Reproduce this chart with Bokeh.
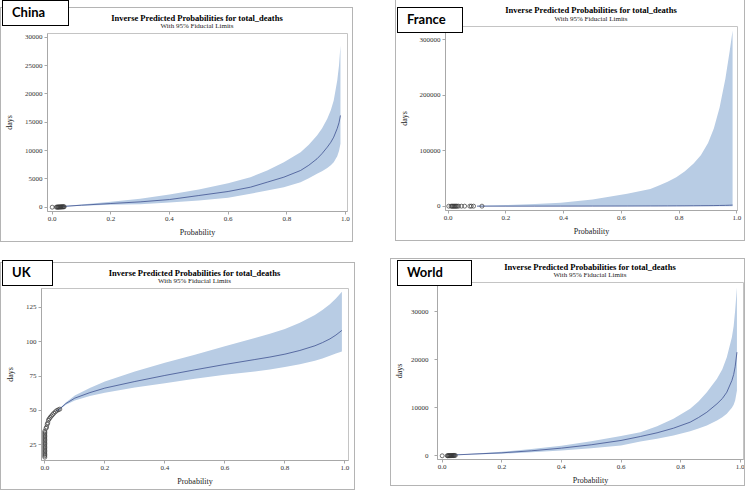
from bokeh.plotting import figure
from bokeh.layouts import row, column
from bokeh.models import Range1d, FixedTicker, PrintfTickFormatter, Div, GridBox
from bokeh.embed import file_html
from bokeh.resources import INLINE

# ---------------- data ----------------
x_ticks = [0.0, 0.2, 0.4, 0.6, 0.8, 1.0]

china_p   = [0.03, 0.05, 0.1, 0.2, 0.3, 0.4, 0.5, 0.6, 0.676, 0.733, 0.79, 0.847, 0.875, 0.903, 0.92, 0.938, 0.95, 0.96, 0.972, 0.978, 0.983]
china_lo  = [20, 120, 235, 410, 530, 820, 1180, 1650, 2365, 2950, 3530, 4410, 5100, 5900, 6350, 6900, 7400, 7940, 9000, 9900, 11190]
china_mid = [60, 180, 350, 650, 940, 1350, 2060, 2770, 3530, 4410, 5300, 6480, 7400, 8540, 9450, 10590, 11450, 12360, 13900, 14900, 16190]
china_hi  = [100, 235, 470, 940, 1470, 2235, 3120, 4235, 5300, 6480, 7940, 9710, 11000, 12650, 13900, 15600, 17100, 18830, 22360, 25000, 28540]
china_obs_p = [0.0, 0.014, 0.017, 0.019, 0.021, 0.023, 0.025, 0.027, 0.029, 0.031, 0.033, 0.035, 0.037, 0.039, 0.041]
china_obs_d = [0, 10, 15, 20, 25, 30, 35, 40, 45, 50, 55, 60, 65, 70, 75]
china_yticks = [0, 5000, 10000, 15000, 20000, 25000, 30000]

france_p   = [0.1, 0.2, 0.3, 0.39, 0.5, 0.62, 0.7, 0.73, 0.76, 0.79, 0.82, 0.85, 0.875, 0.9, 0.92, 0.94, 0.96, 0.975, 0.985]
france_lo  = [0, 0, 0, 0, 0, 0, 0, 0, 0, 0, 0, 0, 0, 0, 0, 0, 0, 0, 0]
france_mid = [30, 60, 100, 150, 230, 350, 450, 500, 560, 620, 700, 800, 900, 1000, 1100, 1300, 1500, 1750, 2000]
france_hi  = [700, 2000, 3800, 6100, 12100, 22400, 31000, 37400, 44000, 52300, 63000, 77000, 92000, 114000, 140000, 178000, 230000, 280000, 317000]
france_obs_p = [0.002, 0.01, 0.013, 0.016, 0.019, 0.022, 0.025, 0.028, 0.031, 0.036, 0.046, 0.057, 0.075, 0.08, 0.088, 0.117]
france_obs_d = [0, 10, 15, 20, 25, 30, 35, 40, 45, 50, 55, 60, 65, 70, 75, 80]
france_yticks = [0, 100000, 200000, 300000]

uk_p   = [0.04, 0.05, 0.07, 0.1, 0.15, 0.2, 0.3, 0.4, 0.5, 0.6, 0.7, 0.75, 0.8, 0.85, 0.9, 0.925, 0.95, 0.97, 0.99]
uk_lo  = [49.5, 50.7, 54.2, 57.3, 60.5, 62.9, 66.7, 69.9, 73.1, 76.0, 78.4, 79.9, 81.6, 83.7, 86.2, 87.9, 89.8, 91.5, 93.0]
uk_mid = [49.8, 51.2, 55.0, 59.0, 63.0, 66.3, 71.1, 75.5, 79.6, 83.5, 87.1, 88.9, 91.0, 93.7, 97.1, 99.4, 102.1, 104.9, 108.3]
uk_hi  = [50.1, 51.7, 55.8, 60.9, 66.3, 71.1, 78.4, 84.7, 90.5, 96.8, 102.7, 105.8, 109.3, 113.8, 119.5, 123.2, 127.4, 131.5, 136.5]
uk_obs_p = [0.0, 0.0, 0.0, 0.0, 0.0, 0.0, 0.0, 0.0, 0.0, 0.0, 0.0, 0.0, 0.0, 0.0, 0.0, 0.0, 0.0, 0.0, 0.0, 0.0,
            0.004, 0.006, 0.008, 0.01, 0.012, 0.015, 0.018, 0.022, 0.026, 0.03, 0.035, 0.04, 0.045, 0.05]
uk_obs_d = [16, 17, 18, 19, 20, 21, 22, 23, 24, 25, 26, 27, 28, 29, 30, 31, 32, 33, 34, 35,
            37, 38, 40, 41, 43, 44, 45, 46, 47, 48, 49, 50, 50.5, 51]
uk_yticks = [25, 50, 75, 100, 125]

world_p   = [0.03, 0.05, 0.1, 0.2, 0.3, 0.4, 0.5, 0.6, 0.665, 0.721, 0.776, 0.832, 0.86, 0.888, 0.922, 0.94, 0.955, 0.972, 0.978, 0.983, 0.989]
world_lo  = [20, 150, 280, 415, 760, 1110, 1590, 2150, 2970, 3530, 4220, 5110, 5680, 6300, 7340, 8000, 8730, 10000, 10600, 11500, 13580]
world_mid = [60, 200, 350, 620, 1040, 1590, 2290, 3190, 4010, 4780, 5740, 6990, 7950, 9060, 10810, 11900, 13220, 15650, 16900, 18500, 21540]
world_hi  = [100, 260, 415, 850, 1400, 2100, 3000, 4100, 4910, 6150, 7690, 9770, 11300, 13220, 16000, 18000, 20500, 24660, 27000, 30200, 35050]
world_obs_p = [0.0, 0.017, 0.019, 0.021, 0.023, 0.025, 0.027, 0.029, 0.031, 0.033, 0.035, 0.037, 0.039, 0.041, 0.044]
world_obs_d = [0, 10, 15, 20, 25, 30, 35, 40, 45, 50, 55, 60, 65, 70, 75]
world_yticks = [0, 10000, 20000, 30000]

TITLE = "Inverse Predicted Probabilities for total_deaths"
SUBTITLE = "With 95% Fiducial Limits"

SERIF = "Liberation Serif"
BAND = "#b8cce4"
LINE = "#3f5291"
GRAY = "#b4b4b4"


def overlay_div(name, w, h, frame_box, label_box, cx, title_y):
    fl, ft, fw, fh, top_border = frame_box
    ll, lt, lw, lh = label_box
    tb = "1px solid %s" % GRAY if top_border else "none"
    html = (
        '<div style="position:relative;width:%dpx;height:%dpx;">' % (w, h)
        + '<div style="position:absolute;left:%dpx;top:%dpx;width:%dpx;height:%dpx;box-sizing:border-box;'
          'border:1px solid %s;border-top:%s;"></div>' % (fl, ft, fw, fh, GRAY, tb)
        + '<div style="position:absolute;left:0px;top:%.1fpx;width:%dpx;text-align:center;'
          'font-family:\'Liberation Serif\';font-weight:bold;font-size:8.5px;line-height:9px;'
          'color:#000;white-space:nowrap;">%s</div>' % (title_y[0] - 4.5, int(round(2 * cx)), TITLE)
        + '<div style="position:absolute;left:0px;top:%.1fpx;width:%dpx;text-align:center;'
          'font-family:\'Liberation Serif\';font-size:7px;line-height:7px;color:#222;'
          'white-space:nowrap;">%s</div>' % (title_y[1] - 3.5, int(round(2 * cx)), SUBTITLE)
        + '<div style="position:absolute;left:%dpx;top:%dpx;width:%dpx;height:%dpx;box-sizing:border-box;'
          'border:1.5px solid #000;background:#fff;padding-left:9px;font-family:Lato;font-weight:bold;'
          'font-size:13px;line-height:23px;color:#000;">%s</div>' % (ll, lt, lw, lh, name)
        + '</div>'
    )
    return Div(text=html, width=w, height=h, margin=(0, 0, 0, 0))


def panel(name, p, lo, mid, hi, obs_p, obs_d, yticks, xr, yr, w, h, borders, margin,
          frame_box, label_box, title_y, ylab_standoff, ytick_standoff):
    bl, br, bt, bb = borders
    fig = figure(width=w, height=h, x_range=Range1d(*xr), y_range=Range1d(*yr),
                 output_backend="svg", toolbar_location=None,
                 min_border_left=bl, min_border_right=br, min_border_top=bt, min_border_bottom=bb,
                 margin=(0, 0, 0, 0))
    fig.background_fill_color = "white"
    fig.border_fill_color = "white"
    fig.outline_line_color = "#c4c4c4"
    fig.xgrid.visible = False
    fig.ygrid.visible = False

    fig.varea(x=p, y1=lo, y2=hi, fill_color=BAND, fill_alpha=1.0)
    fig.line(x=p, y=mid, line_color=LINE, line_width=0.8)
    fig.scatter(x=obs_p, y=obs_d, marker="circle", size=4, fill_alpha=0.0,
                line_color="#3a3a3a", line_width=0.7)

    for ax in (fig.xaxis[0], fig.yaxis[0]):
        ax.axis_line_color = "#a8a8a8"
        ax.major_tick_line_color = "#a8a8a8"
        ax.major_tick_in = 0
        ax.major_tick_out = 3
        ax.minor_tick_line_color = None
        ax.major_label_text_font = SERIF
        ax.major_label_text_font_size = "7px"
        ax.major_label_text_color = "#333333"
        ax.axis_label_text_font = SERIF
        ax.axis_label_text_font_size = "8px"
        ax.axis_label_text_font_style = "normal"
        ax.axis_label_text_color = "#222222"
    fig.xaxis[0].ticker = FixedTicker(ticks=x_ticks)
    fig.xaxis[0].formatter = PrintfTickFormatter(format="%.1f")
    fig.xaxis[0].axis_label = "Probability"
    fig.xaxis[0].major_label_standoff = 2
    fig.xaxis[0].axis_label_standoff = 4
    fig.yaxis[0].ticker = FixedTicker(ticks=yticks)
    fig.yaxis[0].formatter = PrintfTickFormatter(format="%d")
    fig.yaxis[0].axis_label = "days"
    fig.yaxis[0].major_label_standoff = ytick_standoff
    fig.yaxis[0].axis_label_standoff = ylab_standoff

    cx = bl + (w - bl - br) / 2
    div = overlay_div(name, w, h, frame_box, label_box, cx, title_y)
    return GridBox(children=[(fig, 0, 0), (div, 0, 0)], margin=margin)


# borders: left, right, top, bottom ; margin: top, right, bottom, left
# frame_box: left, top, width, height, draw-top-border ; label_box: left, top, width, height
china = panel("China", china_p, china_lo, china_mid, china_hi, china_obs_p, china_obs_d, china_yticks,
              (-0.016, 1.007), (-760, 30650), 354, 242, (47, 7, 33, 31), (0, 0, 0, 0),
              (0, 7, 353, 235, True), (2, 0, 67, 26), (18, 26), 8, 2)
france = panel("France", france_p, france_lo, france_mid, france_hi, france_obs_p, france_obs_d, france_yticks,
               (-0.0093, 1.002), (-7750, 324000), 351, 241, (50, 9, 26, 31), (0, 0, 0, 41),
               (0, 0, 350, 241, False), (2, 7, 66, 26), (10, 19), 8, 2)
uk = panel("UK", uk_p, uk_lo, uk_mid, uk_hi, uk_obs_p, uk_obs_d, uk_yticks,
           (-0.011, 1.012), (13.6, 138.8), 356, 231, (41, 8, 29, 30), (17, 0, 0, 0),
           (0, 3, 355, 228, True), (2, 1, 51, 26), (14, 22.7), 8, 2)
world = panel("World", world_p, world_lo, world_mid, world_hi, world_obs_p, world_obs_d, world_yticks,
              (-0.0157, 1.011), (-770, 36030), 356, 229, (47, 3, 24, 28), (16, 0, 0, 34),
              (0, 0, 355, 228, True), (7, 2, 75, 26), (9.7, 17.7), 4, 6)

layout = column(row(china, france), row(uk, world))

open("out.html", "w").write(file_html(layout, INLINE))
